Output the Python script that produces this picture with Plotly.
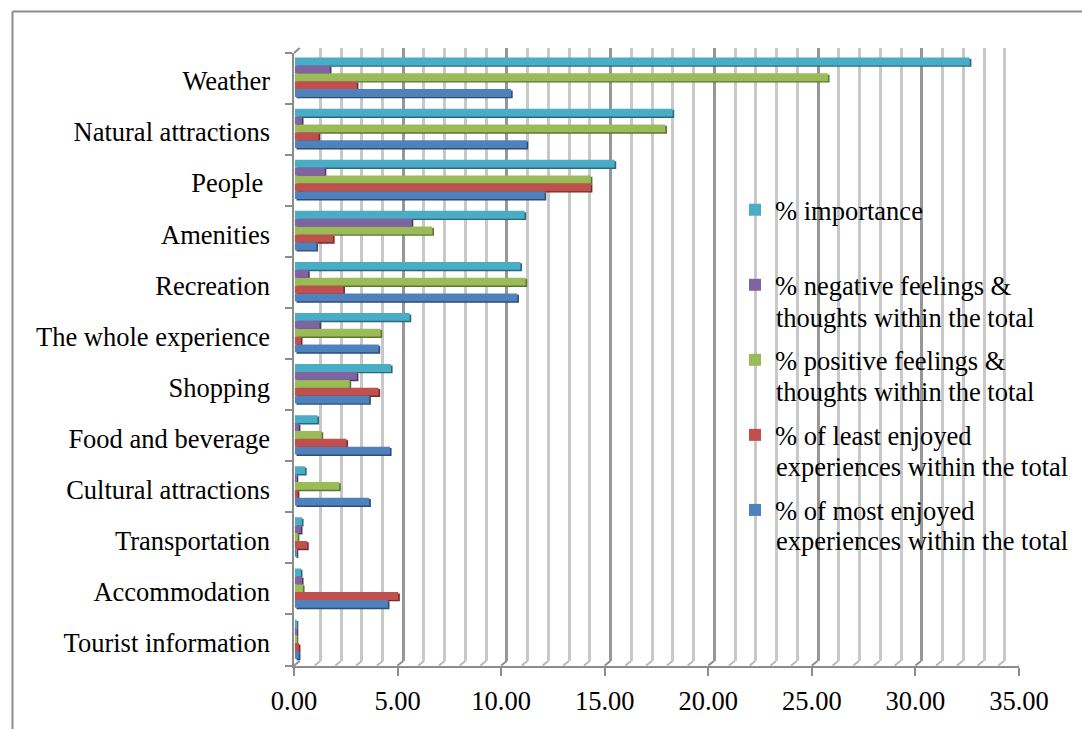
import plotly.graph_objects as go

categories = ["Tourist information", "Accommodation", "Transportation", "Cultural attractions",
              "Food and beverage", "Shopping", "The whole experience", "Recreation",
              "Amenities", "People ", "Natural attractions", "Weather"]
most_enjoyed = [0.2, 4.5, 0.07, 3.6, 4.6, 3.6, 4.05, 10.75, 1.05, 12.07, 11.2, 10.45]
least_enjoyed = [0.2, 5.0, 0.6, 0.15, 2.5, 4.05, 0.3, 2.35, 1.85, 14.3, 1.15, 3.0]
positive = [0.05, 0.4, 0.15, 2.15, 1.3, 2.65, 4.15, 11.15, 6.65, 14.3, 17.9, 25.75]
negative = [0.05, 0.35, 0.3, 0.05, 0.2, 3.0, 1.2, 0.65, 5.65, 1.45, 0.35, 1.7]
importance = [0.05, 0.3, 0.35, 0.5, 1.1, 4.65, 5.55, 10.9, 11.1, 15.45, 18.25, 32.6]
tick_values = [0, 5, 10, 15, 20, 25, 30, 35]
tick_labels = ["0.00", "5.00", "10.00", "15.00", "20.00", "25.00", "30.00", "35.00"]

series = [
    ("% of most enjoyed", "experiences within the total", most_enjoyed, "#4F81BD", "#2C4D75"),
    ("% of least enjoyed", "experiences within the total", least_enjoyed, "#C0504D", "#772C2A"),
    ("% positive feelings &", "thoughts within the total", positive, "#9BBB59", "#5F7530"),
    ("% negative feelings &", "thoughts within the total", negative, "#8064A2", "#4D3B62"),
    ("% importance", "", importance, "#4BACC6", "#276A7C"),
]

W, H = 1082, 729
FONT = "Liberation Serif"
FS = 26.5
def dx(a, b): return [a / W, b / W]
def dy(top, bottom): return [1 - bottom / H, 1 - top / H]

fig = go.Figure()
fig.add_trace(go.Scatter(x=[0], y=[0], xaxis="x", yaxis="y", mode="markers", marker_opacity=0,
                         showlegend=False, hoverinfo="skip"))
for name, line2, vals, col, dark in series:
    fig.add_trace(go.Bar(y=categories, x=vals, orientation="h", xaxis="x2", yaxis="y2",
                         marker=dict(color=dark, line_width=0), showlegend=False, hoverinfo="skip"))
for i, (name, line2, vals, col, dark) in enumerate(series):
    fig.add_trace(go.Bar(y=categories, x=vals, orientation="h", xaxis="x3", yaxis="y3", name=name,
                         legendgroup=str(i), legendrank=1000 - i, marker=dict(color=col, line_width=0)))
fig.add_trace(go.Scatter(x=[0] * 12, y=categories, xaxis="x4", yaxis="y4", mode="markers", marker_opacity=0,
                         showlegend=False, hoverinfo="skip"))
fig.add_trace(go.Scatter(x=[0] * 12, y=categories, xaxis="x4", yaxis="y5", mode="markers", marker_opacity=0,
                         showlegend=False, hoverinfo="skip"))

cat_axis = dict(type="category", categoryorder="array", categoryarray=categories, fixedrange=True,
                range=[-0.5, len(categories) - 0.5])
x_common = dict(range=[0, 35], fixedrange=True)
hidden = dict(showgrid=False, showticklabels=False, ticks="", showline=False, zeroline=False)

shapes = [
    dict(type="line", xref="paper", yref="paper", x0=12.5 / W, x1=12.5 / W, y0=0, y1=1 - 11.5 / H,
         line=dict(color="#8c8c8c", width=2)),
    dict(type="line", xref="paper", yref="paper", x0=12.5 / W, x1=1, y0=1 - 11.5 / H, y1=1 - 11.5 / H,
         line=dict(color="#8c8c8c", width=2)),
]
for v in range(0, 36):
    shapes.append(dict(type="line", layer="below", xref="x4", xsizemode="pixel", xanchor=v, x0=0, x1=5.7,
                       yref="paper", y0=1 - 665.5 / H, y1=1 - 661 / H,
                       line=dict(color="#8c8c8c" if v % 5 == 0 else "#b8b8b8", width=2)))
shapes.append(dict(type="line", layer="below", xref="x4", xsizemode="pixel", xanchor=0, x0=0, x1=5.7,
                   yref="paper", y0=1 - 53 / H, y1=1 - 48 / H, line=dict(color="#8c8c8c", width=2)))

# second lines of the legend entries
annotations = []
for (name, line2, vals, col, dark), y_px in zip(series, [541, 467, 392, 318]):
    annotations.append(dict(text=line2, xref="paper", yref="paper", x=775 / W, y=1 - y_px / H,
                            xanchor="left", yanchor="middle", showarrow=False, xshift=-1,
                            font=dict(family=FONT, size=FS, color="black")))

fig.update_layout(
    width=W, height=H, margin=dict(l=0, r=0, t=0, b=0, autoexpand=False),
    paper_bgcolor="white", plot_bgcolor="rgba(0,0,0,0)",
    barmode="group", bargap=0.23, bargroupgap=0,
    font=dict(family=FONT, size=FS, color="black"),
    shapes=shapes, annotations=annotations,
    xaxis=dict(x_common, domain=dx(299.5, 1025.7), anchor="y", showline=False, zeroline=False,
               showticklabels=False, ticks="", tickvals=tick_values,
               showgrid=True, gridcolor="#979797", gridwidth=2.5,
               minor=dict(dtick=1, showgrid=True, gridcolor="#c8c8c8", gridwidth=2.5, ticks="")),
    yaxis=dict(domain=dy(48, 661), range=[0, 1], anchor="x", fixedrange=True, **hidden),
    xaxis2=dict(x_common, domain=dx(296.3, 1021.1), anchor="y2", **hidden),
    yaxis2=dict(cat_axis, domain=dy(53.1, 666.1), anchor="x2", **hidden),
    xaxis3=dict(x_common, domain=dx(294.7, 1019.5), anchor="y3", **hidden),
    yaxis3=dict(cat_axis, domain=dy(51.7, 664.7), anchor="x3", **hidden),
    xaxis4=dict(x_common, domain=dx(294, 1019), anchor="y4", showgrid=False, zeroline=False,
                showline=True, linecolor="#8c8c8c", linewidth=2,
                tickmode="array", tickvals=tick_values, ticktext=tick_labels,
                ticks="outside", ticklen=8, tickwidth=2, tickcolor="#8c8c8c",
                tickfont=dict(family=FONT, size=FS, color="black"), ticklabelstandoff=3),
    yaxis4=dict(cat_axis, domain=dy(53, 665.5), anchor="x4", showgrid=False, zeroline=False,
                showticklabels=False, showline=True, linecolor="#8c8c8c", linewidth=2,
                ticks="outside", tickson="boundaries", ticklen=7, tickwidth=2, tickcolor="#8c8c8c"),
    yaxis5=dict(cat_axis, domain=dy(55.6, 668.1), anchor="x4", showgrid=False, zeroline=False,
                showline=False, ticks="", ticklabelstandoff=23,
                tickfont=dict(family=FONT, size=FS, color="black")),
    legend=dict(x=735 / W, y=1 - 186 / H, xanchor="left", yanchor="top", bgcolor="rgba(0,0,0,0)",
                traceorder="grouped", tracegroupgap=37.6, itemclick=False, itemdoubleclick=False,
                font=dict(family=FONT, size=FS, color="black"), itemwidth=30),
)
fig.write_html("out.html", post_script="document.body.style.margin='0';", config={"displayModeBar": False})
